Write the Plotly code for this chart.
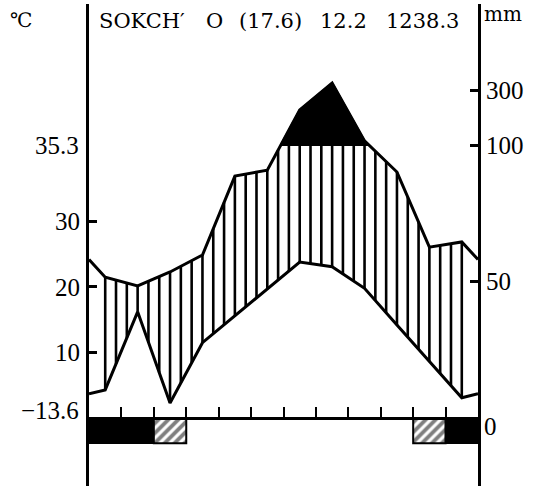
import plotly.graph_objects as go
import numpy as np

# ---------------- data ----------------
months = ["Jan", "Feb", "Mar", "Apr", "May", "Jun", "Jul", "Aug", "Sep", "Oct", "Nov", "Dec"]
temp_c = [4.3, 16.2, 2.3, 11.5, 15.6, 19.7, 23.8, 23.1, 19.8, 14.2, 8.7, 3.1]
precip_mm = [51.6, 48.4, 53.5, 59.7, 88.6, 90.8, 228.0, 327.0, 115.0, 90.1, 62.6, 64.5]
# 2 = mean daily minimum below 0 (black), 1 = absolute minimum below 0 (hatched)
frost = [2, 2, 1, 0, 0, 0, 0, 0, 0, 0, 1, 2]

station = "SOKCH′"
altitude = "O"
years = "(17.6)"
mean_temp = "12.2"
annual_precip = "1238.3"
abs_max = "35.3"
abs_min = "−13.6"
temp_ticks = [10, 20, 30]
precip_ticks = [50, 100, 300]

# ---------------- scales ----------------
MM_PER_DEG = 2.4          # temperature drawn on the precipitation scale
BREAK = 100               # above 100 mm the scale is compressed 1:10


def p_scale(p):
    p = np.asarray(p, dtype=float)
    return np.where(p <= BREAK, p, BREAK + (p - BREAK) / 10.0)


def t_scale(t):
    return np.asarray(t, dtype=float) * MM_PER_DEG


xm = np.arange(12) + 0.5
t_u = t_scale(temp_c)
p_u = p_scale(precip_mm)
# close the curves at the diagram edges (Dec/Jan average)
xf = np.concatenate([[0], xm, [12]])
t_full = np.concatenate([[(t_u[0] + t_u[-1]) / 2], t_u, [(t_u[0] + t_u[-1]) / 2]])
p_full = np.concatenate([[(p_u[0] + p_u[-1]) / 2], p_u, [(p_u[0] + p_u[-1]) / 2]])

Y_RANGE = [-24.9, 151.65]

fig = go.Figure()

# humid period hatching (vertical lines between temperature and precipitation)
hx, hy = [], []
for k in range(34):
    x = 0.5 + k / 3.0
    tv = np.interp(x, xf, t_full)
    pv = min(np.interp(x, xf, p_full), BREAK)
    if pv > tv:
        hx += [x, x, None]
        hy += [tv, pv, None]
fig.add_trace(go.Scatter(x=hx, y=hy, mode="lines", line=dict(color="black", width=2.6),
                         hoverinfo="skip", showlegend=False))

# perhumid part (above 100 mm) in black
px_, py_ = [], []
for i in range(len(xf) - 1):
    x0, y0, x1, y1 = xf[i], p_full[i], xf[i + 1], p_full[i + 1]
    if y0 >= BREAK:
        px_.append(x0)
        py_.append(y0)
    if (y0 - BREAK) * (y1 - BREAK) < 0:
        xc = x0 + (BREAK - y0) * (x1 - x0) / (y1 - y0)
        px_.append(xc)
        py_.append(BREAK)
if px_:
    fig.add_trace(go.Scatter(x=px_ + [px_[0]], y=py_ + [py_[0]], mode="lines", fill="toself",
                             fillcolor="black", line=dict(color="black", width=2),
                             hoverinfo="skip", showlegend=False))

# curves
fig.add_trace(go.Scatter(x=xf, y=p_full, mode="lines", line=dict(color="black", width=3),
                         hoverinfo="skip", showlegend=False))
fig.add_trace(go.Scatter(x=xf, y=t_full, mode="lines", line=dict(color="black", width=3),
                         hoverinfo="skip", showlegend=False))

# frost bars under the baseline
BAR_BOTTOM = -9.2
for i, f in enumerate(frost):
    if f == 0:
        continue
    rx = [i, i + 1, i + 1, i, i]
    ry = [0, 0, BAR_BOTTOM, BAR_BOTTOM, 0]
    if f == 2:
        fig.add_trace(go.Scatter(x=rx, y=ry, mode="lines", fill="toself", fillcolor="black",
                                 line=dict(color="black", width=1.5),
                                 hoverinfo="skip", showlegend=False))
    else:
        fig.add_trace(go.Scatter(x=rx, y=ry, mode="lines", fill="toself", fillcolor="white",
                                 fillpattern=dict(shape="/", fgcolor="black", bgcolor="white",
                                                  size=7, solidity=0.55),
                                 line=dict(color="black", width=2),
                                 hoverinfo="skip", showlegend=False))

# ---------------- layout ----------------
L, R, T, B = 89, 63, 4, 0
W, H = 541, 486
base_pos = (-Y_RANGE[0]) / (Y_RANGE[1] - Y_RANGE[0])

num_font = dict(family="Liberation Serif", size=25, color="black")
title_font = dict(family="DejaVu Serif", size=21, color="black")

fig.update_layout(
    width=W, height=H,
    margin=dict(l=L, r=R, t=T, b=B),
    paper_bgcolor="white", plot_bgcolor="white",
    showlegend=False,
    xaxis=dict(range=[0, 12], anchor="free", position=base_pos, showline=True,
               linecolor="black", linewidth=2.5, ticks="inside", tickvals=list(range(1, 12)),
               ticklen=10, tickwidth=2, tickcolor="black", showticklabels=False,
               showgrid=False, zeroline=False, fixedrange=True),
    yaxis=dict(range=Y_RANGE, showline=True, linecolor="black", linewidth=3,
               ticks="inside", tickvals=list(t_scale(temp_ticks)),
               ticktext=[str(t) for t in temp_ticks], ticklen=8, tickwidth=2.5,
               tickcolor="black", tickfont=num_font, ticklabelstandoff=1,
               showgrid=False, zeroline=False),
    yaxis2=dict(range=Y_RANGE, overlaying="y", side="right", showline=True,
                linecolor="black", linewidth=3, ticks="inside",
                tickvals=list(p_scale(precip_ticks)),
                ticktext=[str(p) for p in precip_ticks], ticklen=8, tickwidth=2.5,
                tickcolor="black", tickfont=num_font, ticklabelstandoff=0,
                showgrid=False, zeroline=False),
)
# make the y2 axis exist
fig.add_trace(go.Scatter(x=[None], y=[None], yaxis="y2", showlegend=False))

pw = W - L - R
ph = H - T - B


def px2paper_x(px):
    return (px - L) / pw


def px2paper_y(py):
    return (H - B - py) / ph


anns = []
# title tokens
for txt, x0 in [(station, 97), (altitude, 204), (years, 237), (mean_temp, 318), (annual_precip, 384)]:
    anns.append(dict(text=txt, x=px2paper_x(x0), y=px2paper_y(21), xref="paper", yref="paper",
                     xanchor="left", yanchor="middle", showarrow=False, font=title_font))
anns.append(dict(text="℃", x=px2paper_x(8), y=px2paper_y(20), xref="paper", yref="paper",
                 xanchor="left", yanchor="middle", showarrow=False,
                 font=dict(family="DejaVu Serif", size=20, color="black")))
anns.append(dict(text="mm", x=px2paper_x(482), y=px2paper_y(14), xref="paper", yref="paper",
                 xanchor="left", yanchor="middle", showarrow=False,
                 font=dict(family="DejaVu Serif", size=20, color="black")))
anns.append(dict(text=abs_max, x=px2paper_x(81), y=BREAK, xref="paper", yref="y",
                 xanchor="right", yanchor="middle", showarrow=False, font=num_font))
anns.append(dict(text=abs_min, x=px2paper_x(81), y=px2paper_y(410), xref="paper", yref="paper",
                 xanchor="right", yanchor="middle", showarrow=False, font=num_font))
anns.append(dict(text="0", x=px2paper_x(482), y=px2paper_y(426), xref="paper", yref="paper",
                 xanchor="left", yanchor="middle", showarrow=False, font=num_font))
fig.update_layout(annotations=anns)

fig.write_html("out.html")
